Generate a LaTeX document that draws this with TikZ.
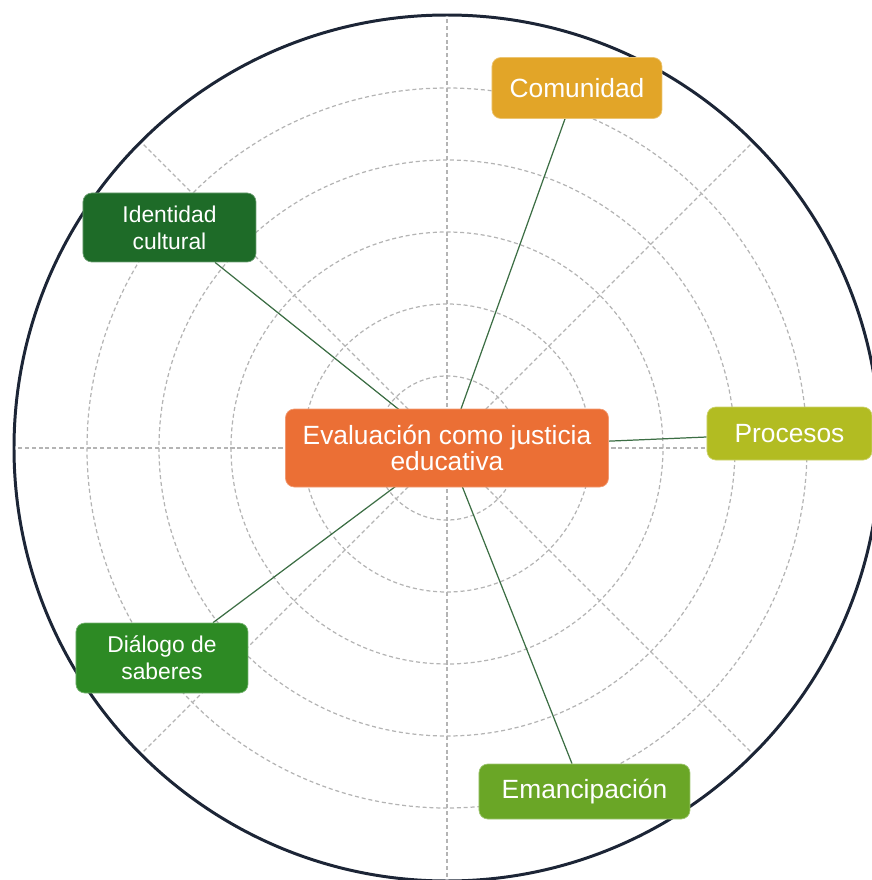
\documentclass[tikz,border=0pt]{standalone}
\usepackage{fontspec}
\setmainfont{Liberation Sans}
\usepackage{tikz}
\usetikzlibrary{backgrounds, calc}
\definecolor{RingNavy}{HTML}{1C2536}
\definecolor{GridGray}{HTML}{B4B4B4}
\definecolor{LinkGreen}{HTML}{3C6E44}
\definecolor{HubOrange}{HTML}{EB6F35}
\definecolor{CommGold}{HTML}{E2A528}
\definecolor{IdentGreen}{HTML}{1E6B28}
\definecolor{ProcLime}{HTML}{B2BC22}
\definecolor{DialGreen}{HTML}{2D8A24}
\definecolor{EmanGreen}{HTML}{6AA626}
\tikzset{
  hubbox/.style={rectangle, rounded corners=5pt, draw=HubOrange!70!white, fill=HubOrange, text=white, minimum width=6.46cm, minimum height=1.56cm, font=\fontsize{15}{15}\selectfont, align=center, inner sep=0pt},
  themebox/.style={rectangle, rounded corners=5pt, draw=#1!65!white, fill=#1, text=white, font=\fontsize{15}{15.3}\selectfont, align=center, inner sep=0pt},
  smalltext/.style={font=\fontsize{13}{15.3}\selectfont},
  link/.style={LinkGreen, line width=0.7pt},
  gridline/.style={GridGray, line width=0.7pt, dash pattern=on 2.3pt off 1.6pt},
  rim/.style={RingNavy, line width=1.7pt}
}
\begin{document}
\begin{tikzpicture}
  \useasboundingbox (-8.94,-8.64) rectangle (8.50,8.96);
  % Themes
  \node[hubbox] (hub) at (0,0) {Evaluación como justicia\\educativa};
  \node[themebox=CommGold, minimum width=3.4cm, minimum height=1.22cm] (comm) at (2.6,7.2) {Comunidad};
  \node[themebox=IdentGreen, smalltext, minimum width=3.46cm, minimum height=1.38cm] (ident) at (-5.55,4.41) {Identidad\\cultural};
  \node[themebox=ProcLime, minimum width=3.3cm, minimum height=1.06cm] (proc) at (6.85,0.29) {Procesos};
  \node[themebox=DialGreen, smalltext, minimum width=3.44cm, minimum height=1.4cm] (dial) at (-5.7,-4.2) {Diálogo de\\saberes};
  \node[themebox=EmanGreen, minimum width=4.22cm, minimum height=1.1cm] (eman) at (2.75,-6.87) {Emancipación};

  % Grid and links
  \begin{scope}[on background layer]
    \foreach \r in {1,...,5}
      \draw[gridline] (0,0) circle [radius=1.44*\r];
    \foreach \a in {0,45,...,315}
      \draw[gridline] (0,0) -- (\a:8.66);
    \draw[rim] (0,0) circle [radius=8.66];
    \draw[link] (hub.center) -- ([xshift=-0.24cm]comm.south);
    \draw[link] (hub.center) -- ([xshift=0.91cm]ident.south);
    \draw[link] (hub.center) -- ([yshift=-0.07cm]proc.west);
    \draw[link] (hub.center) -- ([xshift=1.02cm]dial.north);
    \draw[link] (hub.center) -- ([xshift=-0.25cm]eman.north);
  \end{scope}
\end{tikzpicture}
\end{document}
